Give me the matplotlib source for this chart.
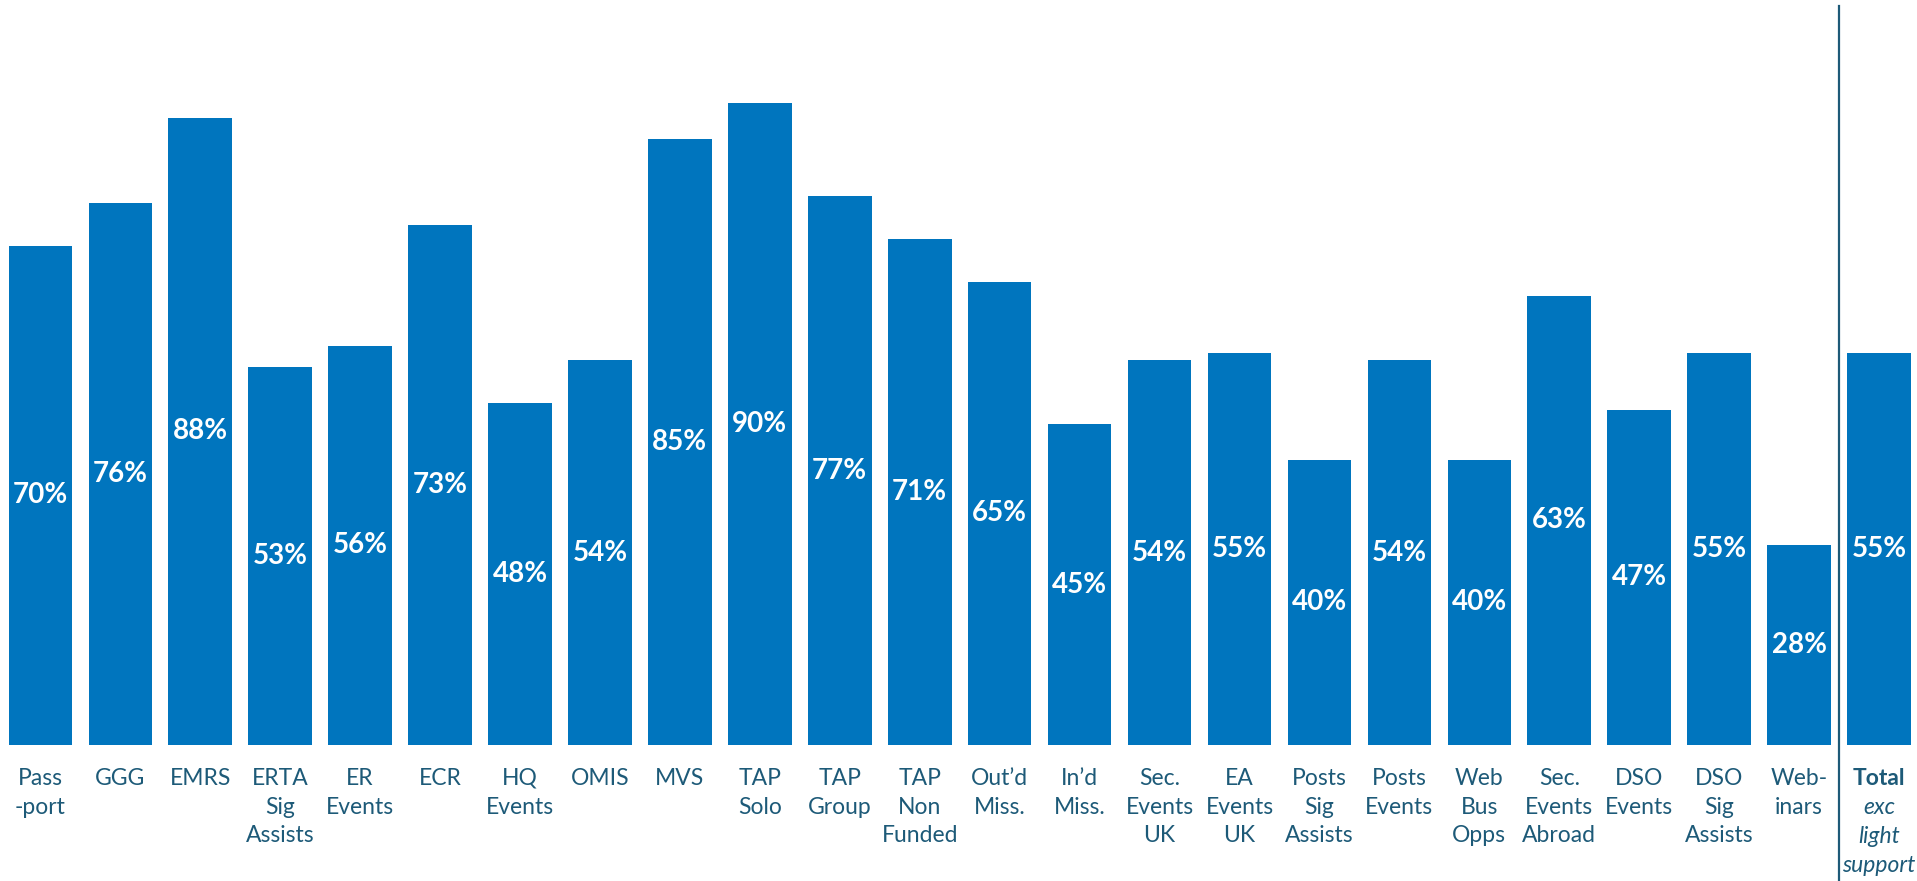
import matplotlib
matplotlib.use("Agg")
import matplotlib.pyplot as plt
import matplotlib.transforms as mtransforms

categories = [
    "Pass\n-port", "GGG", "EMRS", "ERTA\nSig\nAssists", "ER\nEvents", "ECR",
    "HQ\nEvents", "OMIS", "MVS", "TAP\nSolo", "TAP\nGroup", "TAP\nNon\nFunded",
    "Out\u2019d\nMiss.", "In\u2019d\nMiss.", "Sec.\nEvents\nUK", "EA\nEvents\nUK",
    "Posts\nSig\nAssists", "Posts\nEvents", "Web\nBus\nOpps", "Sec.\nEvents\nAbroad",
    "DSO\nEvents", "DSO\nSig\nAssists", "Web-\ninars",
]
values = [70, 76, 88, 53, 56, 73, 48, 54, 85, 90, 77, 71, 65, 45, 54, 55,
          40, 54, 40, 63, 47, 55, 28]
total_title = "Total"
total_sub = "exc\nlight\nsupport"
total_value = 55

bar_color = "#0075BE"
text_color = "#1D5A78"

plt.rcParams["font.family"] = ["Lato", "DejaVu Sans"]

fig = plt.figure(figsize=(19.17, 8.81), dpi=100)
ax = fig.add_axes([0.0, 136 / 881, 1.0, 745 / 881])

all_vals = values + [total_value]
xs = list(range(len(all_vals)))
bars = ax.bar(xs, all_vals, width=0.795, color=bar_color, edgecolor="none")

for x, v in zip(xs, all_vals):
    ax.text(x, v / 2, f"{v}%", ha="center", va="center", color="white",
            fontsize=20, fontweight="bold")

lab_size = 16.5
spacing = 1.45
top_off = -16.5
for x, lab in zip(xs, categories):
    ax.annotate(lab, xy=(x, 0), xytext=(0, top_off), textcoords="offset points",
                ha="center", va="top", color=text_color, fontsize=lab_size,
                linespacing=spacing, annotation_clip=False)

xt = len(values)
ax.annotate(total_title, xy=(xt, 0), xytext=(0, top_off), textcoords="offset points",
            ha="center", va="top", color=text_color, fontsize=lab_size,
            fontweight="bold", annotation_clip=False)
ax.annotate(total_sub, xy=(xt, 0), xytext=(0, top_off - 21.1), textcoords="offset points",
            ha="center", va="top", color=text_color, fontsize=lab_size,
            style="italic", linespacing=spacing, annotation_clip=False)

# divider before the total bar, running down through the labels
trans = mtransforms.blended_transform_factory(ax.transData, ax.transAxes)
ax.plot([xt - 0.5, xt - 0.5], [-0.19, 0.992], color=text_color, lw=1.6,
        transform=trans, clip_on=False)

ax.set_xlim(-0.505, 23.475)
ax.set_ylim(0, 104.5)
ax.axis("off")

fig.savefig("out.png", dpi=100)
